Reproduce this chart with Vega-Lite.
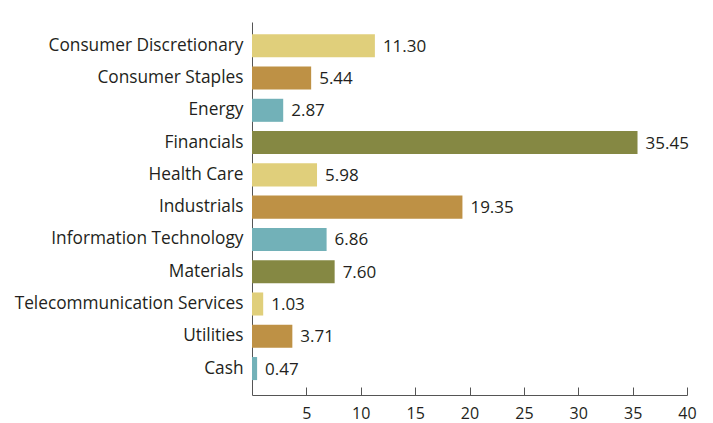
{
  "$schema": "https://vega.github.io/schema/vega-lite/v6.json",
  "width": 435,
  "height": 373,
  "autosize": "none",
  "padding": {"left": 252, "top": 22, "right": 26, "bottom": 28},
  "background": "white",
  "config": {"view": {"stroke": null}, "font": "Open Sans"},
  "data": {"values": [
    {"sector": "Consumer Discretionary", "value": 11.30, "c": "a"},
    {"sector": "Consumer Staples", "value": 5.44, "c": "b"},
    {"sector": "Energy", "value": 2.87, "c": "c"},
    {"sector": "Financials", "value": 35.45, "c": "d"},
    {"sector": "Health Care", "value": 5.98, "c": "a"},
    {"sector": "Industrials", "value": 19.35, "c": "b"},
    {"sector": "Information Technology", "value": 6.86, "c": "c"},
    {"sector": "Materials", "value": 7.60, "c": "d"},
    {"sector": "Telecommunication Services", "value": 1.03, "c": "a"},
    {"sector": "Utilities", "value": 3.71, "c": "b"},
    {"sector": "Cash", "value": 0.47, "c": "c"}
  ]},
  "encoding": {
    "y": {"field": "sector", "type": "nominal", "sort": null,
      "scale": {"paddingInner": 0.286, "paddingOuter": 0.42, "align": 0.45},
      "axis": {"title": null, "ticks": false, "labelFontSize": 17.3, "labelLimit": 0, "labelColor": "#231f20", "labelPadding": 9, "domainColor": "#555555", "domainWidth": 1}},
    "x": {"field": "value", "type": "quantitative",
      "scale": {"domain": [0, 40], "nice": false},
      "axis": {"title": null, "grid": false, "values": [5,10,15,20,25,30,35,40], "tickSize": -8, "tickColor": "#555555", "domainColor": "#555555", "labelFontSize": 16, "labelColor": "#231f20", "labelPadding": 18, "labelFlush": false}}
  },
  "layer": [
    {"mark": {"type": "bar"},
     "encoding": {"color": {"field": "c", "type": "nominal", "legend": null,
       "scale": {"domain": ["a","b","c","d"], "range": ["#e0cf7b", "#be9145", "#72b1b8", "#858843"]}}}},
    {"mark": {"type": "text", "align": "left", "dx": 8, "dy": 1, "fontSize": 17, "color": "#231f20"},
     "encoding": {"text": {"field": "value", "type": "quantitative", "format": ".2f"}}}
  ]
}
